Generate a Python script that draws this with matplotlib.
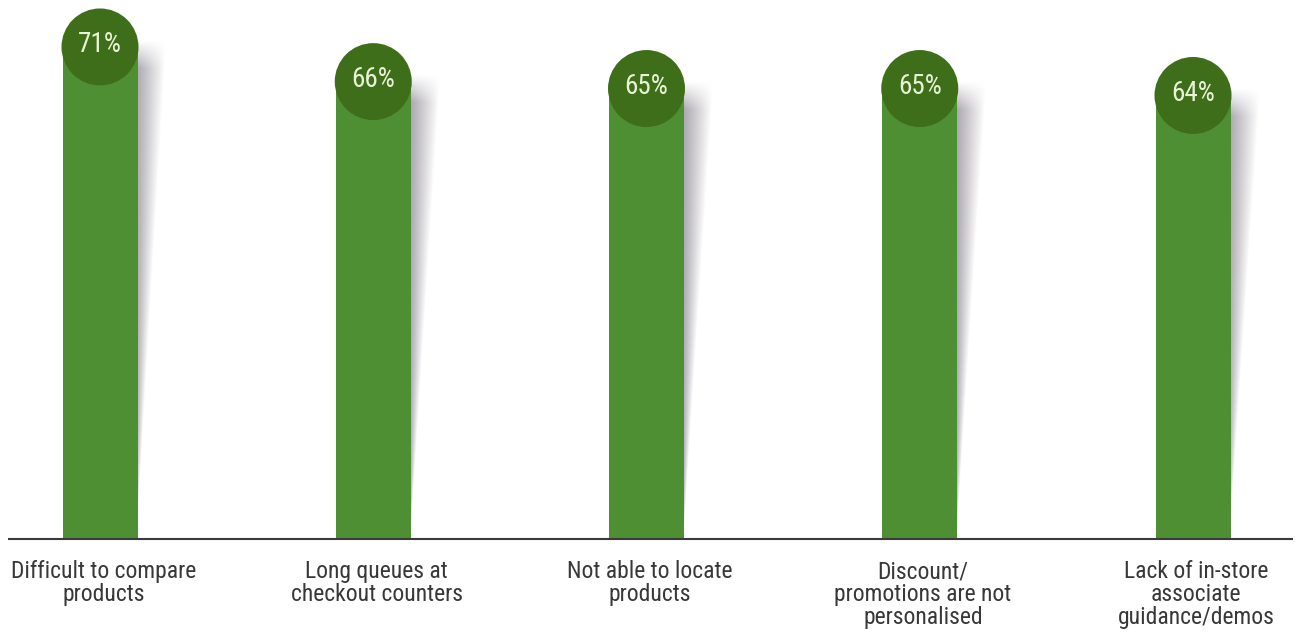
import numpy as np
import matplotlib
matplotlib.use("Agg")
import matplotlib.pyplot as plt
from matplotlib.patches import Ellipse
from matplotlib import font_manager

categories = [
    "Difficult to compare\nproducts",
    "Long queues at\ncheckout counters",
    "Not able to locate\nproducts",
    "Discount/\npromotions are not\npersonalised",
    "Lack of in-store\nassociate\nguidance/demos",
]
values = [71, 66, 65, 65, 64]
value_labels = ["71%", "66%", "65%", "65%", "64%"]

names = {f.name for f in font_manager.fontManager.ttflist}
narrow = "DejaVu Sans"
for cand in ["Liberation Sans Narrow", "Roboto Condensed", "Archivo Narrow",
             "PT Sans Narrow", "Asap Condensed"]:
    if cand in names:
        narrow = cand
        break

W_PX, H_PX = 1301, 639
fig = plt.figure(figsize=(W_PX / 100, H_PX / 100), dpi=100)
ax = fig.add_axes([0, 0, 1, 1])

px_x = 273.25   # pixels per category unit
px_y = 6.93     # pixels per percent
x0_px = 100
base_px = 100   # baseline from bottom
ax.set_xlim(-x0_px / px_x, (W_PX - x0_px) / px_x)
ax.set_ylim(-base_px / px_y, (H_PX - base_px) / px_y)
ax.axis("off")

bar_green = "#4f8f33"
circ_green = "#3f6e1b"
bw = 75 / px_x
x = np.arange(len(values))

# shadows
shadow_w = 30 / px_x
for xi, v in zip(x, values):
    xr = xi + bw / 2 - 0.004
    ny, nx = 300, 80
    ys = np.linspace(0, v + 2, ny)
    xs = np.linspace(0, shadow_w, nx)
    XX, YY = np.meshgrid(xs, ys)
    w = shadow_w * np.clip(YY / v, 0.02, 1)
    a = np.clip(1 - XX / w, 0, 1) ** 0.9 * 0.9
    topfade = np.clip((v + 1.0 - YY) / 4.0, 0, 1)
    a = a * topfade
    img = np.zeros((ny, nx, 4))
    img[..., 0] = 160 / 255
    img[..., 1] = 157 / 255
    img[..., 2] = 165 / 255
    img[..., 3] = a
    ax.imshow(img, extent=[xr, xr + shadow_w, 0, v + 2], origin="lower",
              aspect="auto", interpolation="bilinear", zorder=1)

ax.bar(x, values, width=bw, color=bar_green, zorder=2)
for xi, v, lab in zip(x, values, value_labels):
    ax.add_patch(Ellipse((xi, v), width=bw + 2 / px_x, height=77 / px_y,
                         facecolor=circ_green, edgecolor="none", zorder=3))
    ax.text(xi, v + 0.3, lab, ha="center", va="center", fontsize=19.5,
            color="#e8f3d6", family=[narrow, "DejaVu Sans"], zorder=4)

ax.plot([(8 - x0_px) / px_x, (1293 - x0_px) / px_x], [0, 0],
        color="#3a3a3a", lw=1.5, zorder=5, solid_capstyle="butt")

for xi, c in zip(x, categories):
    ax.text(xi + 0.012, -21 / px_y, c, ha="center", va="top", fontsize=17,
            color="#383838", family=[narrow, "DejaVu Sans"], linespacing=1.0)

fig.savefig("out.png", dpi=100)
